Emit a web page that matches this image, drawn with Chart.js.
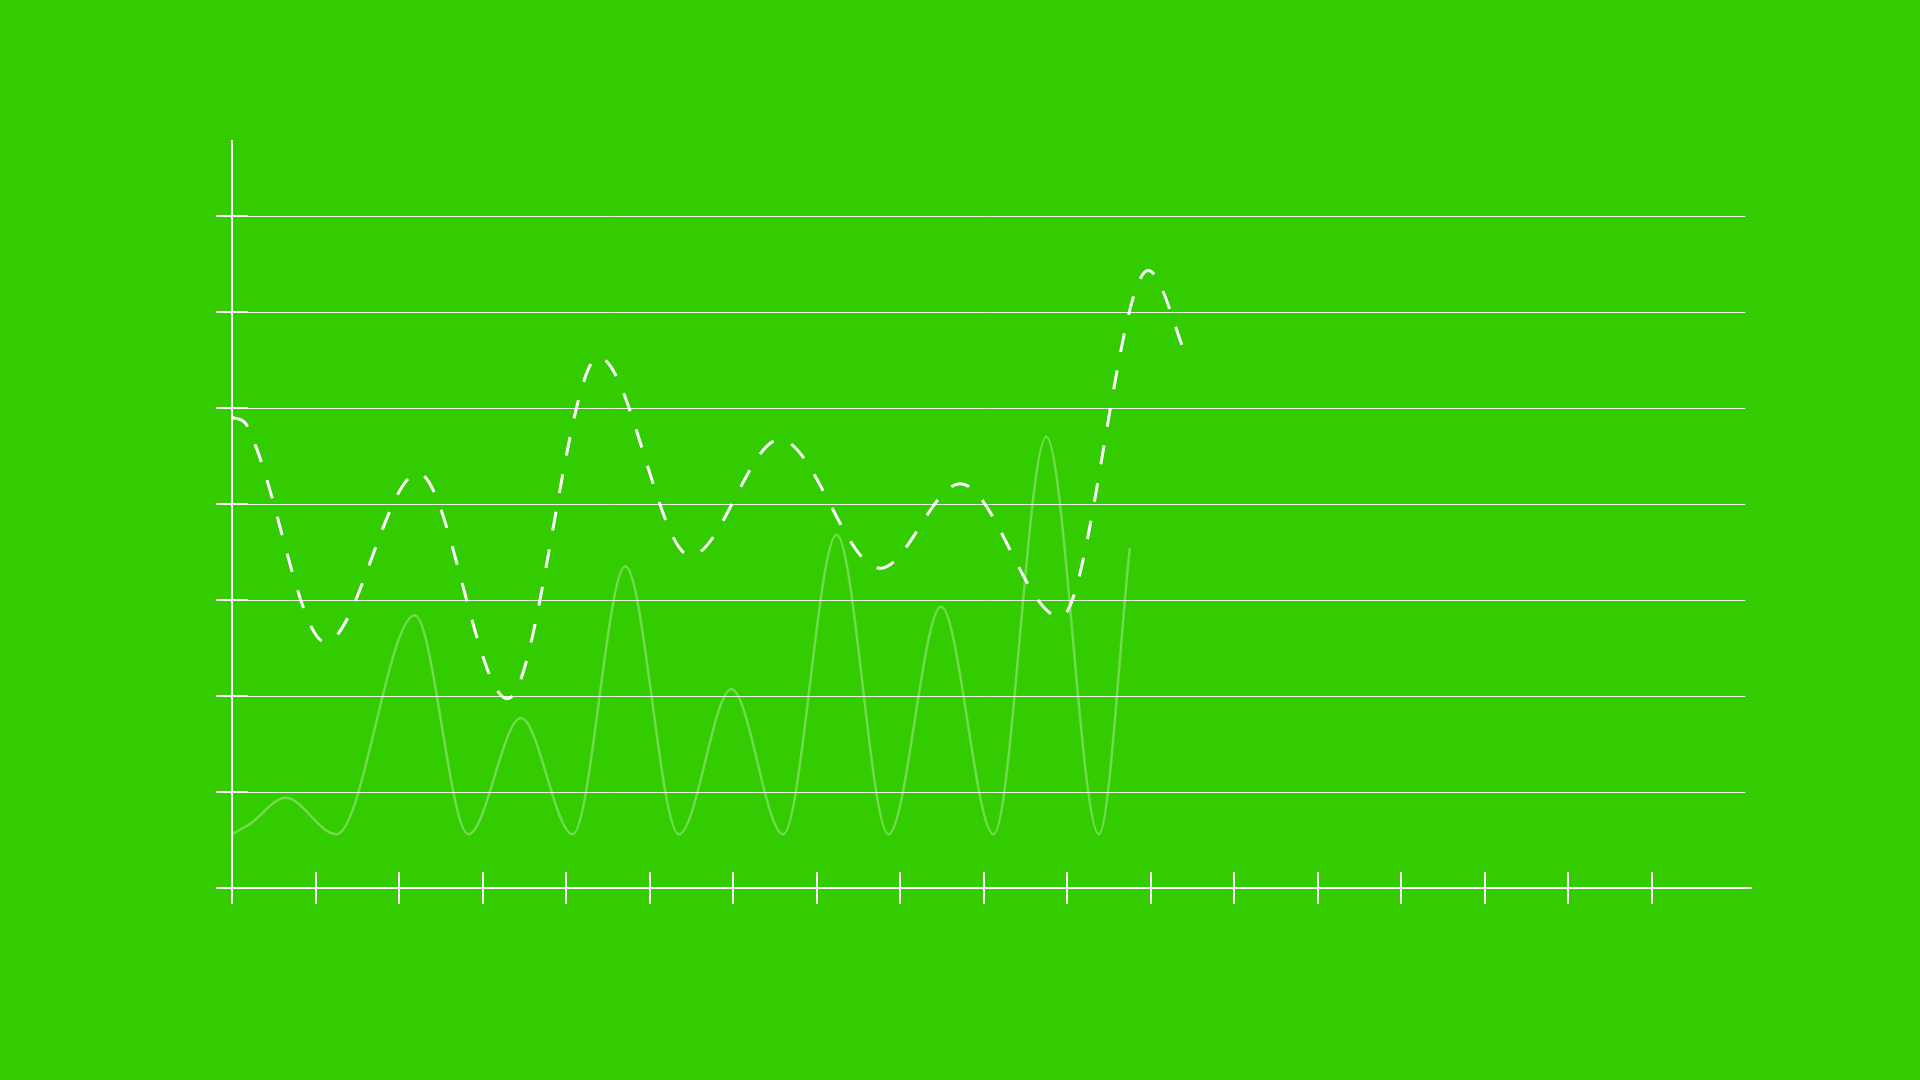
<!DOCTYPE html>
<html>
<head>
<meta charset="utf-8">
<title>Wave chart</title>
<script src="https://cdn.jsdelivr.net/npm/chart.js@4.4.1/dist/chart.umd.min.js"></script>
<style>
  html, body { margin: 0; padding: 0; background: #33cc00; }
  canvas { display: block; }
</style>
</head>
<body>
<canvas id="chart" width="1920" height="1080"></canvas>
<script>
// x values are in tick units (one x tick = 1), y values in grid units
const solidX = [0, 0.22, 0.64, 1.25, 2.19, 2.83, 3.46, 4.08, 4.71, 5.35, 5.98, 6.6, 7.24, 7.86, 8.49, 9.12, 9.75, 10.38, 10.75];
const solidY = [0.56, 0.67, 0.94, 0.56, 2.84, 0.56, 1.77, 0.56, 3.35, 0.56, 2.07, 0.56, 3.68, 0.56, 2.93, 0.56, 4.7, 0.56, 3.54];

const dashedX = [0, 0.16, 0.28, 1.12, 2.23, 3.3, 4.39, 5.49, 6.56, 7.76, 8.72, 9.92, 10.97, 11.44];
const dashedY = [4.9, 4.84, 4.61, 2.56, 4.32, 1.97, 5.53, 3.46, 4.67, 3.33, 4.21, 2.82, 6.43, 5.51];

const xTicks = [0, 1, 2, 3, 4, 5, 6, 7, 8, 9, 10, 11, 12, 13, 14, 15, 16, 17];
const yTicks = [1, 2, 3, 4, 5, 6, 7];

const xMax = 18.2;
const yMax = 7.79;
const gridEnd = 18.12;

const toPoints = (xs, ys) => xs.map((x, i) => ({ x: x, y: ys[i] }));

// grid lines, axes and the crossing tick marks
const axesPlugin = {
  id: "axes",
  beforeDatasetsDraw(chart) {
    const ctx = chart.ctx;
    const xs = chart.scales.x;
    const ys = chart.scales.y;
    const x0 = xs.getPixelForValue(0);
    const y0 = ys.getPixelForValue(0);
    const tick = 16;

    ctx.save();
    ctx.strokeStyle = "rgba(255,255,255,0.85)";
    ctx.lineWidth = 1;
    yTicks.forEach((v) => {
      const py = Math.round(ys.getPixelForValue(v)) + 0.5;
      ctx.beginPath();
      ctx.moveTo(x0, py);
      ctx.lineTo(xs.getPixelForValue(gridEnd), py);
      ctx.stroke();
    });

    ctx.strokeStyle = "#ffffff";
    ctx.lineWidth = 2;
    // y axis
    ctx.beginPath();
    ctx.moveTo(x0, ys.getPixelForValue(yMax));
    ctx.lineTo(x0, y0 + tick);
    ctx.stroke();
    // x axis
    ctx.beginPath();
    ctx.moveTo(x0 - tick, y0);
    ctx.lineTo(xs.getPixelForValue(xMax), y0);
    ctx.stroke();

    yTicks.forEach((v) => {
      const py = Math.round(ys.getPixelForValue(v));
      ctx.beginPath();
      ctx.moveTo(x0 - tick, py);
      ctx.lineTo(x0 + tick, py);
      ctx.stroke();
    });
    xTicks.forEach((v) => {
      if (v === 0) return;
      const px = Math.round(xs.getPixelForValue(v));
      ctx.beginPath();
      ctx.moveTo(px, y0 - tick);
      ctx.lineTo(px, y0 + tick);
      ctx.stroke();
    });
    ctx.restore();
  },
};

const ctx = document.getElementById("chart");
new Chart(ctx, {
  type: "line",
  data: {
    datasets: [
      {
        label: "solid",
        data: toPoints(solidX, solidY),
        borderColor: "rgba(255,255,255,0.3)",
        borderWidth: 2.5,
        pointRadius: 0,
        cubicInterpolationMode: "monotone",
        fill: false,
        clip: false,
      },
      {
        label: "dashed",
        data: toPoints(dashedX, dashedY),
        borderColor: "#ffffff",
        borderWidth: 3,
        borderDash: [19, 19],
        pointRadius: 0,
        cubicInterpolationMode: "monotone",
        fill: false,
        clip: false,
      },
    ],
  },
  options: {
    responsive: false,
    animation: false,
    events: [],
    layout: {
      padding: { left: 232, top: 140, right: 168, bottom: 192 },
    },
    scales: {
      x: { type: "linear", min: 0, max: xMax, display: false },
      y: { type: "linear", min: 0, max: yMax, display: false },
    },
    plugins: {
      legend: { display: false },
      tooltip: { enabled: false },
    },
  },
  plugins: [axesPlugin],
});
</script>
</body>
</html>
